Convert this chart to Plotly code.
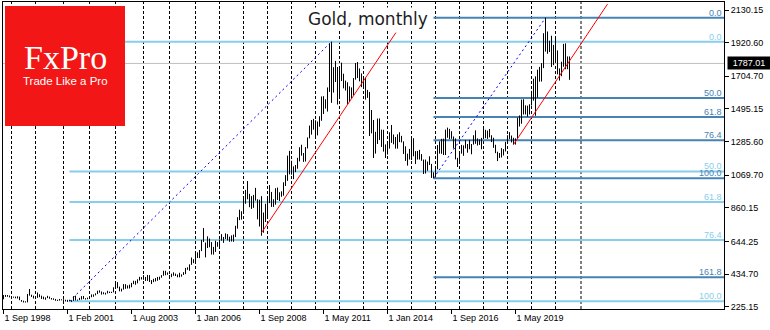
import plotly.graph_objects as go

# ---- monthly gold bars (high / low), one entry per bar, Sep 1998 .. Aug 2021 ----
bar_high = [
    300, 301, 300, 297,
    293, 290, 290, 292, 290, 268, 264, 260, 307, 339, 302, 296,
    292, 316, 305, 296, 290, 285, 295, 290, 281, 279, 275, 270, 275, 273,
    273, 270, 269, 270, 267, 293, 296, 271, 282, 293, 294, 280, 283,
    288, 304, 304, 311, 328, 330, 323, 318, 315, 327, 322, 321, 350,
    372, 383, 354, 341, 370, 370, 362, 367, 378, 392, 391, 401, 417, 415,
    428, 416, 429, 428, 396, 404, 409, 416, 418, 428, 456, 456, 445,
    429, 437, 446, 438, 432, 443, 433, 447, 474, 478, 497, 541, 530,
    572, 574, 589, 654, 730, 637, 677, 663, 640, 609, 649, 640,
    656, 691, 673, 696, 691, 675, 683, 688, 745, 800, 848, 838,
    932, 975, 1032, 950, 935, 943, 988, 915, 912, 935, 830, 886,
    935, 1006, 962, 915, 986, 990, 960, 966, 1024, 1070, 1195, 1226,
    1162, 1126, 1135, 1181, 1249, 1265, 1212, 1250, 1312, 1388, 1424, 1431,
    1422, 1414, 1448, 1575, 1577, 1557, 1633, 1913, 1927, 1763, 1803, 1764,
    1764, 1792, 1721, 1677, 1666, 1640, 1633, 1693, 1790, 1796, 1755, 1723,
    1695, 1696, 1617, 1604, 1488, 1424, 1348, 1433, 1434, 1362, 1361, 1267,
    1280, 1345, 1392, 1331, 1315, 1332, 1345, 1322, 1287, 1255, 1208, 1238,
    1307, 1307, 1224, 1225, 1232, 1205, 1170, 1170, 1157, 1191, 1142, 1088,
    1128, 1263, 1287, 1303, 1304, 1362, 1375, 1367, 1352, 1318, 1306, 1181,
    1220, 1264, 1261, 1295, 1270, 1296, 1270, 1326, 1357, 1306, 1299, 1309,
    1366, 1361, 1356, 1366, 1326, 1310, 1265, 1220, 1212, 1243, 1237, 1284,
    1326, 1346, 1324, 1310, 1306, 1439, 1453, 1555, 1557, 1518, 1516, 1525,
    1611, 1689, 1704, 1747, 1765, 1789, 1981, 2080, 1992, 1933, 1965, 1906,
    1959, 1871, 1755, 1798, 1913, 1916, 1832, 1832,
]
bar_low = [
    273, 288, 289, 285,
    283, 283, 279, 278, 267, 257, 252, 252, 253, 296, 288, 278,
    280, 282, 286, 275, 273, 270, 280, 276, 271, 269, 263, 262, 264, 266,
    262, 259, 256, 260, 256, 262, 265, 264, 268, 271, 274, 271, 273,
    277, 286, 289, 298, 306, 315, 303, 305, 303, 310, 313, 313, 317,
    342, 344, 324, 323, 335, 340, 342, 342, 350, 370, 366, 375, 393, 400,
    398, 390, 391, 384, 371, 383, 387, 392, 398, 411, 424, 427, 430,
    417, 415, 424, 422, 414, 414, 418, 429, 434, 462, 456, 494, 505,
    517, 538, 537, 582, 641, 542, 602, 607, 560, 560, 577, 610,
    604, 649, 635, 660, 651, 642, 644, 642, 672, 726, 781, 784,
    834, 886, 915, 864, 853, 860, 906, 786, 740, 681, 700, 769,
    802, 890, 866, 866, 880, 910, 904, 931, 938, 1000, 1033, 1075,
    1073, 1044, 1089, 1111, 1158, 1195, 1155, 1157, 1241, 1306, 1330, 1362,
    1309, 1325, 1381, 1419, 1462, 1497, 1478, 1604, 1534, 1600, 1668, 1523,
    1563, 1674, 1627, 1613, 1527, 1540, 1564, 1583, 1683, 1693, 1672, 1635,
    1626, 1555, 1566, 1321, 1338, 1180, 1208, 1270, 1295, 1251, 1221, 1180,
    1202, 1240, 1277, 1268, 1240, 1240, 1282, 1280, 1206, 1161, 1131, 1170,
    1167, 1191, 1141, 1170, 1170, 1162, 1077, 1080, 1098, 1135, 1052, 1050,
    1061, 1107, 1208, 1207, 1199, 1199, 1310, 1301, 1303, 1241, 1171, 1122,
    1146, 1208, 1194, 1241, 1214, 1236, 1204, 1266, 1271, 1260, 1264, 1236,
    1302, 1307, 1303, 1312, 1282, 1245, 1211, 1160, 1180, 1183, 1196, 1222,
    1275, 1302, 1280, 1266, 1266, 1301, 1382, 1400, 1459, 1459, 1445, 1459,
    1517, 1548, 1451, 1567, 1670, 1671, 1757, 1863, 1849, 1860, 1764, 1776,
    1802, 1717, 1677, 1705, 1766, 1750, 1750, 1682,
]
last_price = 1787.01

# bar index of each January (yearly period separators)
year_starts = [4, 16, 30, 43, 56, 70, 83, 96, 108, 120, 132, 144, 156, 168,
               180, 192, 204, 216, 228, 240, 252, 264, 276, 288.75]

# time scale labels
date_tick_idx = [0, 32, 64, 96, 128, 160, 192, 224, 256]
date_tick_text = ["1 Sep 1998", "1 Feb 2001", "1 Aug 2003", "1 Jan 2006",
                  "1 Sep 2008", "1 May 2011", "1 Jan 2014", "1 Sep 2016",
                  "1 May 2019"]

# price scale labels
price_ticks = [225.15, 434.70, 644.25, 860.15, 1069.70, 1285.60,
               1495.15, 1704.70, 1920.60, 2130.15]

# Fibonacci retracements: swing anchors are bar indices
long_fib_levels = [0.0, 50.0, 61.8, 76.4, 100.0]
long_swing_low_idx, long_swing_high_idx = 33, 164
short_fib_levels = [0.0, 50.0, 61.8, 76.4, 100.0, 161.8]
short_swing_low_idx, short_swing_high_idx = 215, 271

# support trend lines (bar index, price)
trend1_x, trend1_y = [129, 196.2], [700, 1985]
trend2_x, trend2_y = [255, 302], [1266, 2168]

# ---- geometry ----
W, H = 770, 330
ML, MR, MT, MB = 3, 46, 2, 21
X_RANGE = [-0.25, 360.25]
Y_RANGE = [210.4, 2181.5]
PW, PH = W - ML - MR, H - MT - MB

def px_x(p):
    return (p - ML) / PW

def px_y(p):
    return 1 - (p - MT) / PH

FONT = "Liberation Sans, Arial, sans-serif"
LIGHT = "#87CEEB"
DARK = "#4682B4"

fig = go.Figure()

# current price line
fig.add_trace(go.Scatter(x=X_RANGE, y=[last_price, last_price], mode="lines",
                         line=dict(color="#C0C0C0", width=1), hoverinfo="skip"))

def add_fib(levels, lo_idx, hi_idx, color):
    lo = bar_low[lo_idx]
    hi = bar_high[hi_idx]
    start = min(lo_idx, hi_idx)
    for r in levels:
        v = hi - r / 100.0 * (hi - lo)
        fig.add_trace(go.Scatter(x=[start, X_RANGE[1]], y=[v, v], mode="lines",
                                 line=dict(color=color, width=2), hoverinfo="skip"))
        fig.add_annotation(x=1, xref="paper", y=v, yref="y", xanchor="right",
                           yanchor="bottom", xshift=-1, yshift=-1, showarrow=False,
                           text=f"{r:.1f}", font=dict(family=FONT, size=9, color=color),
                           borderpad=0)
    fig.add_trace(go.Scatter(x=[lo_idx, hi_idx], y=[lo, hi], mode="lines",
                             line=dict(color="#0000FF", width=1, dash="2px,3px"),
                             hoverinfo="skip"))

add_fib(long_fib_levels, long_swing_low_idx, long_swing_high_idx, LIGHT)
add_fib(short_fib_levels, short_swing_low_idx, short_swing_high_idx, DARK)

# high-low bars
bx, by = [], []
for i, (h, l) in enumerate(zip(bar_high, bar_low)):
    bx += [i, i, None]
    by += [l, h, None]
fig.add_trace(go.Scatter(x=bx, y=by, mode="lines",
                         line=dict(color="black", width=1), hoverinfo="skip"))

# trend lines
for tx, ty in ((trend1_x, trend1_y), (trend2_x, trend2_y)):
    fig.add_trace(go.Scatter(x=tx, y=ty, mode="lines",
                             line=dict(color="#FF0000", width=1), hoverinfo="skip"))

# yearly separators
for ys in year_starts:
    fig.add_shape(type="line", xref="x", yref="paper", x0=ys, x1=ys, y0=0, y1=1,
                  line=dict(color="black", width=1, dash="3px,2px"), layer="below")

# brand block
fig.add_shape(type="rect", xref="paper", yref="paper",
              x0=px_x(5), x1=px_x(125), y0=px_y(126), y1=px_y(6),
              fillcolor="#F21616", line=dict(width=0), layer="above")
fig.add_annotation(x=px_x(65.5), y=px_y(58), xref="paper", yref="paper",
                   text="FxPro", showarrow=False, xanchor="center", yanchor="middle",
                   font=dict(family="Liberation Serif, Times New Roman, serif",
                             size=34, color="white"))
fig.add_annotation(x=px_x(65), y=px_y(81), xref="paper", yref="paper",
                   text="Trade Like a Pro", showarrow=False, xanchor="center",
                   yanchor="middle", font=dict(family=FONT, size=11.5, color="white"))

# chart caption
fig.add_annotation(x=px_x(306), y=px_y(19), xref="paper", yref="paper",
                   text="Gold, monthly", showarrow=False, xanchor="left",
                   yanchor="middle", bgcolor="white", borderpad=1,
                   font=dict(family="DejaVu Sans, sans-serif", size=17, color="#1c1c24"))

# current price tag
fig.add_annotation(x=1, xref="paper", y=last_price, yref="y", xanchor="left",
                   yanchor="middle", xshift=3, showarrow=False,
                   text=f"{last_price:.2f}", bgcolor="black", borderpad=1,
                   width=40, height=10,
                   font=dict(family=FONT, size=9, color="white"))

fig.update_layout(
    width=W, height=H,
    margin=dict(l=ML, r=MR, t=MT, b=MB, pad=0),
    paper_bgcolor="white", plot_bgcolor="white",
    showlegend=False,
    xaxis=dict(range=X_RANGE, showgrid=False, zeroline=False,
               showline=True, linecolor="black", linewidth=1, mirror=True,
               ticks="outside", ticklen=4, tickcolor="black",
               tickvals=date_tick_idx, ticktext=date_tick_text,
               ticklabelposition="outside right",
               tickfont=dict(family=FONT, size=9, color="black")),
    yaxis=dict(range=Y_RANGE, side="right", showgrid=False, zeroline=False,
               showline=True, linecolor="black", linewidth=1, mirror=True,
               ticks="outside", ticklen=4, tickcolor="black",
               tickvals=price_ticks, ticktext=[f"{v:.2f}" for v in price_ticks],
               tickfont=dict(family=FONT, size=9, color="black")),
)

fig.write_html("out.html")
